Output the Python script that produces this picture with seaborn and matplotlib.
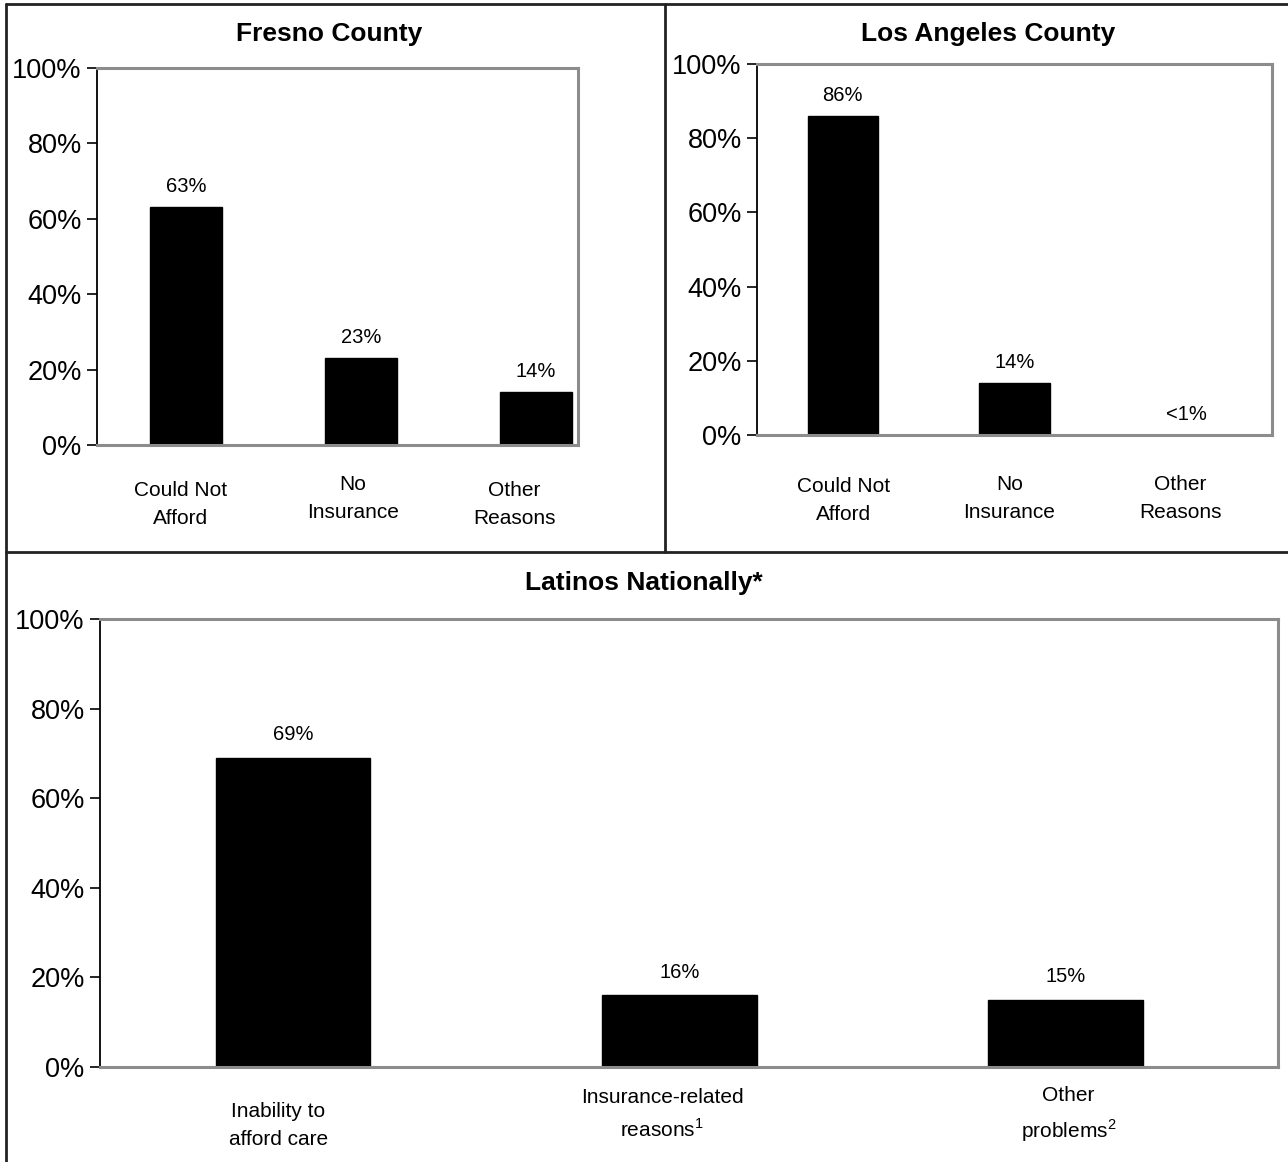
"""Reasons for unmet care need: Fresno, Los Angeles, Latinos nationally."""

import matplotlib

matplotlib.use("Agg")

import matplotlib.pyplot as plt
import matplotlib.transforms as mtransforms
import pandas as pd
import seaborn as sns
from matplotlib.lines import Line2D

# --- data -------------------------------------------------------------
fresno_labels = ["Could Not\nAfford", "No\nInsurance", "Other\nReasons"]
fresno_values = [63, 23, 14]
fresno_text = ["63%", "23%", "14%"]

la_labels = ["Could Not\nAfford", "No\nInsurance", "Other\nReasons"]
la_values = [86, 14, 0]
la_text = ["86%", "14%", "<1%"]

national_labels = ["Inability to\nafford care",
                   "Insurance-related\nreasons$^{1}$",
                   "Other\nproblems$^{2}$"]
national_values = [69, 16, 15]
national_text = ["69%", "16%", "15%"]

y_ticks = [0, 20, 40, 60, 80, 100]
y_tick_labels = ["0%", "20%", "40%", "60%", "80%", "100%"]

# --- style ------------------------------------------------------------
sns.set_theme(style="white")
plt.rcParams["font.family"] = ["Liberation Sans", "DejaVu Sans"]
plt.rcParams["text.color"] = "black"
plt.rcParams["xtick.color"] = "black"
plt.rcParams["ytick.color"] = "black"
plt.rcParams["mathtext.fontset"] = "custom"
plt.rcParams["mathtext.rm"] = "Liberation Sans"

W, H = 1288, 1162
fig = plt.figure(figsize=(W / 100, H / 100), dpi=100)


def px_axes(left, top, right, bottom):
    return fig.add_axes([left / W, 1 - bottom / H, (right - left) / W, (bottom - top) / H])


def draw_panel(ax, labels, values, texts, title, title_xy, xlim, width, label_pad, nudges):
    df = pd.DataFrame({"cat": labels, "val": values})
    sns.barplot(data=df, x="cat", y="val", color="black", width=width,
                saturation=1, ax=ax)
    for patch in ax.patches:
        patch.set_edgecolor("black")
    ax.set_ylim(0, 100)
    ax.set_xlim(*xlim)
    ax.set_yticks(y_ticks)
    ax.set_yticklabels(y_tick_labels, fontsize=19.5)
    ax.set_xticks(range(len(labels)))
    ax.set_xticklabels(labels, fontsize=15, linespacing=1.6)
    ax.tick_params(axis="x", length=0, pad=label_pad)
    ax.tick_params(axis="y", length=7, width=1.2, color="black", left=True, pad=4)
    # small per-label shifts (pixels) to follow the original layout
    for lab, (dx, dy) in zip(ax.get_xticklabels(), nudges):
        shift = mtransforms.ScaledTranslation(dx / 100, -dy / 100, fig.dpi_scale_trans)
        lab.set_transform(lab.get_transform() + shift)
    ax.set_xlabel("")
    ax.set_ylabel("")
    for name in ["top", "right", "bottom"]:
        ax.spines[name].set_color("#8c8c8c")
        ax.spines[name].set_linewidth(2.2)
    ax.spines["left"].set_color("black")
    ax.spines["left"].set_linewidth(1.3)
    for i, (v, t) in enumerate(zip(values, texts)):
        ax.text(i, v + 3, t, ha="center", va="bottom", fontsize=14.5)
    fig.text(title_xy[0] / W, 1 - title_xy[1] / H, title, ha="center", va="center",
             fontsize=19, fontweight="bold")


ax1 = px_axes(97, 68, 578, 445)
draw_panel(ax1, fresno_labels, fresno_values, fresno_text, "Fresno County",
           (329, 34), (-0.51, 2.24), 0.41, 26,
           [(-6, 0), (-8, -6), (-22, 0)])

ax2 = px_axes(757, 64, 1272, 435)
draw_panel(ax2, la_labels, la_values, la_text, "Los Angeles County",
           (988, 34), (-0.5, 2.5), 0.41, 30,
           [(1, 0), (-5, -2), (-6, -2)])

ax3 = px_axes(100, 619, 1278, 1067)
draw_panel(ax3, national_labels, national_values, national_text, "Latinos Nationally*",
           (644, 583), (-0.5, 2.55), 0.40, 25,
           [(-15, 0), (-17, -14), (3, -16)])

# panel frame lines
frame = dict(color="#222222", linewidth=2, transform=fig.transFigure)
fig.add_artist(Line2D([6 / W, 1], [1 - 4 / H, 1 - 4 / H], **frame))
fig.add_artist(Line2D([6 / W, 6 / W], [0, 1 - 4 / H], **frame))
fig.add_artist(Line2D([665 / W, 665 / W], [1 - 552 / H, 1 - 4 / H], **frame))
fig.add_artist(Line2D([6 / W, 1], [1 - 552 / H, 1 - 552 / H], **frame))

fig.savefig("out.png", dpi=100)
